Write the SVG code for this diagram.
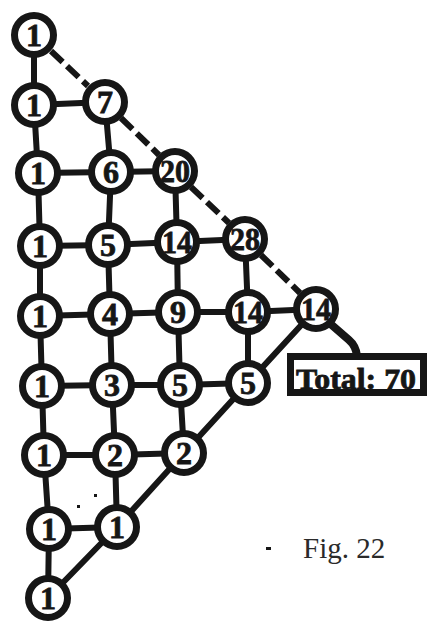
<svg xmlns="http://www.w3.org/2000/svg" width="430" height="623" viewBox="0 0 430 623">
<style>
.bg{fill:#ffffff}
.edge{fill:none;stroke:#161616;stroke-width:6;stroke-linecap:round;stroke-linejoin:round}
.dash{fill:none;stroke:#161616;stroke-width:6;stroke-dasharray:16 6;stroke-linecap:butt}
.node circle{fill:#ffffff;stroke:#161616;stroke-width:7}
.num{font-family:"Liberation Serif","Times New Roman",serif;font-weight:bold;font-size:32px;text-anchor:middle;fill:#161616;stroke:#161616;stroke-width:0.8}
.box{fill:#ffffff;stroke:#161616;stroke-width:7}
.total{font-family:"Liberation Serif","Times New Roman",serif;font-weight:bold;font-size:30px;fill:#161616;stroke:#161616;stroke-width:0.8}
.cap{font-family:"Liberation Serif","Times New Roman",serif;font-size:29px;fill:#2a2a2a}
.mark{fill:#161616}
</style>
<rect class="bg" x="0" y="0" width="430" height="623"/>
<g id="connectors">
  <polyline class="edge" points="34,35 34,105 38,173 40,246 40,316 42,386 44,455 49,529 48,598"/>
  <polyline class="edge" points="105,102 111,172 108,245 110,314 112,385 115,455 117,527"/>
  <polyline class="edge" points="175,171 177,242 178,312 180,385 184,453"/>
  <polyline class="edge" points="245,239 248,312 248,383"/>
  <polyline class="edge" points="34,105 105,102"/>
  <polyline class="edge" points="38,173 111,172 175,171"/>
  <polyline class="edge" points="40,246 108,245 177,242 245,239"/>
  <polyline class="edge" points="40,316 110,314 178,312 248,312 316,309"/>
  <polyline class="edge" points="42,386 112,385 180,385 248,383"/>
  <polyline class="edge" points="44,455 115,455 184,453"/>
  <polyline class="edge" points="49,529 117,527"/>
  <polyline class="edge" points="316,309 248,383 184,453 117,527 48,598"/>
  <line class="dash" x1="51" y1="51" x2="88" y2="86"/>
  <line class="dash" x1="121" y1="118" x2="159" y2="155"/>
  <line class="dash" x1="191" y1="187" x2="229" y2="223"/>
  <line class="dash" x1="261" y1="255" x2="300" y2="293"/>
  <path class="edge" d="M 326 320 L 349 340 Q 356 346 357 356" style="stroke-width:8"/>
</g>
<g id="n1_1" class="node"><circle cx="34" cy="35" r="19.5"/><text class="num" x="34" y="46">1</text></g>
<g id="n2_1" class="node"><circle cx="34" cy="105" r="19.5"/><text class="num" x="34" y="116">1</text></g>
<g id="n2_2" class="node"><circle cx="105" cy="102" r="19.5"/><text class="num" x="105" y="113">7</text></g>
<g id="n3_1" class="node"><circle cx="38" cy="173" r="19.5"/><text class="num" x="38" y="184">1</text></g>
<g id="n3_2" class="node"><circle cx="111" cy="172" r="19.5"/><text class="num" x="111" y="183">6</text></g>
<g id="n3_3" class="node"><circle cx="175" cy="171" r="19.5"/><text class="num" x="175" y="182" textLength="30" lengthAdjust="spacingAndGlyphs">20</text></g>
<g id="n4_1" class="node"><circle cx="40" cy="246" r="19.5"/><text class="num" x="40" y="257">1</text></g>
<g id="n4_2" class="node"><circle cx="108" cy="245" r="19.5"/><text class="num" x="108" y="256">5</text></g>
<g id="n4_3" class="node"><circle cx="177" cy="242" r="19.5"/><text class="num" x="177" y="253" textLength="30" lengthAdjust="spacingAndGlyphs">14</text></g>
<g id="n4_4" class="node"><circle cx="245" cy="239" r="19.5"/><text class="num" x="245" y="250" textLength="30" lengthAdjust="spacingAndGlyphs">28</text></g>
<g id="n5_1" class="node"><circle cx="40" cy="316" r="19.5"/><text class="num" x="40" y="327">1</text></g>
<g id="n5_2" class="node"><circle cx="110" cy="314" r="19.5"/><text class="num" x="110" y="325">4</text></g>
<g id="n5_3" class="node"><circle cx="178" cy="312" r="19.5"/><text class="num" x="178" y="323">9</text></g>
<g id="n5_4" class="node"><circle cx="248" cy="312" r="19.5"/><text class="num" x="248" y="323" textLength="30" lengthAdjust="spacingAndGlyphs">14</text></g>
<g id="n5_5" class="node"><circle cx="316" cy="309" r="19.5"/><text class="num" x="316" y="320" textLength="30" lengthAdjust="spacingAndGlyphs">14</text></g>
<g id="n6_1" class="node"><circle cx="42" cy="386" r="19.5"/><text class="num" x="42" y="397">1</text></g>
<g id="n6_2" class="node"><circle cx="112" cy="385" r="19.5"/><text class="num" x="112" y="396">3</text></g>
<g id="n6_3" class="node"><circle cx="180" cy="385" r="19.5"/><text class="num" x="180" y="396">5</text></g>
<g id="n6_4" class="node"><circle cx="248" cy="383" r="19.5"/><text class="num" x="248" y="394">5</text></g>
<g id="n7_1" class="node"><circle cx="44" cy="455" r="19.5"/><text class="num" x="44" y="466">1</text></g>
<g id="n7_2" class="node"><circle cx="115" cy="455" r="19.5"/><text class="num" x="115" y="466">2</text></g>
<g id="n7_3" class="node"><circle cx="184" cy="453" r="19.5"/><text class="num" x="184" y="464">2</text></g>
<g id="n8_1" class="node"><circle cx="49" cy="529" r="19.5"/><text class="num" x="49" y="540">1</text></g>
<g id="n8_2" class="node"><circle cx="117" cy="527" r="19.5"/><text class="num" x="117" y="538">1</text></g>
<g id="n9_1" class="node"><circle cx="48" cy="598" r="19.5"/><text class="num" x="48" y="609">1</text></g>
<g id="total">
  <rect class="box" x="290.5" y="356.5" width="133" height="36"/>
  <text class="total" x="296" y="389" textLength="120" lengthAdjust="spacingAndGlyphs">Total: 70</text>
</g>
<rect class="mark" x="94" y="494" width="3" height="3"/>
<rect class="mark" x="77" y="505" width="3" height="3"/>
<rect class="mark" x="266" y="547" width="5" height="3"/>
<text class="cap" x="303" y="558">Fig. 22</text>
</svg>
